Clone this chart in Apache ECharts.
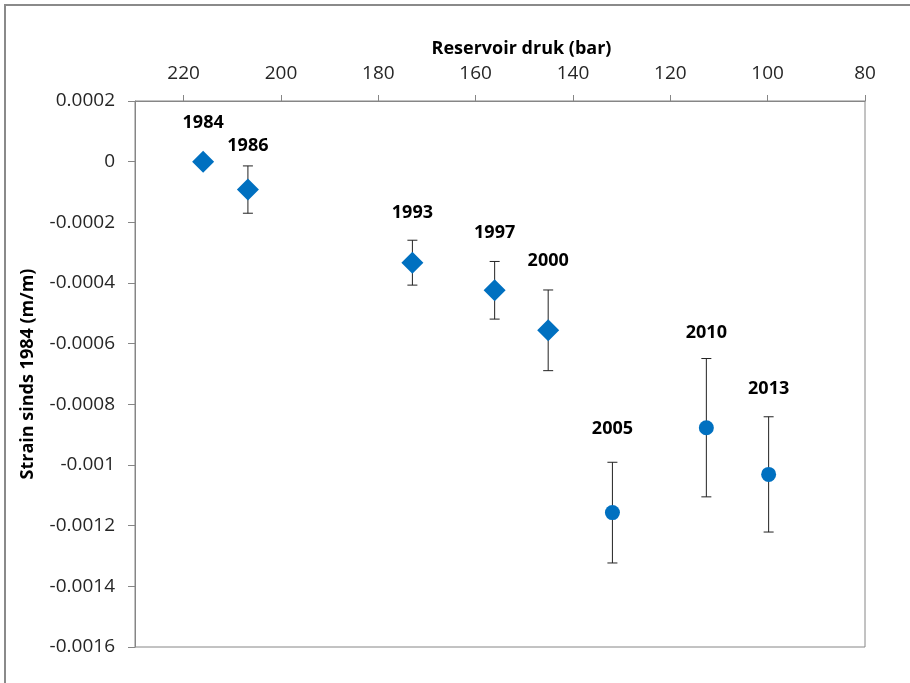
<!DOCTYPE html>
<html>
<head>
<meta charset="utf-8">
<script src="https://cdn.jsdelivr.net/npm/echarts@6/dist/echarts.min.js"></script>
<style>
  html, body { margin: 0; padding: 0; background: #fff; }
  #chart { width: 910px; height: 683px; }
</style>
</head>
<body>
<div id="chart"></div>
<script>
// Survey years, reservoir pressure (bar), strain since 1984 (m/m) and its uncertainty
const years    = ['1984', '1986', '1993', '1997', '2000', '2005', '2010', '2013'];
const pressure = [216, 206.8, 173.0, 156.1, 145.1, 131.9, 112.6, 99.8];
const strain   = [0, -0.000092, -0.000333, -0.000424, -0.000556, -0.001157, -0.000877, -0.001031];
const strainErr = [0, 0.000078, 0.000074, 0.000095, 0.000133, 0.000166, 0.000228, 0.00019];
// Older surveys drawn as diamonds, newer ones as circles
const diamondYears = ['1984', '1986', '1993', '1997', '2000'];
const circleYears  = ['2005', '2010', '2013'];

// Axis ticks
const pressureTicks = [220, 200, 180, 160, 140, 120, 100, 80];
const strainTicks = [0.0002, 0, -0.0002, -0.0004, -0.0006, -0.0008, -0.001, -0.0012, -0.0014, -0.0016];

// Label lift above the top of each error bar (px)
const labelLift = [39, 20, 27, 29, 29, 33, 26, 28];

const BLUE = '#0070C0';
const AXIS_GRAY = '#868686';
const FONT = '"Open Sans", sans-serif';

function rowsFor(list) {
  return years.map((y, i) => [pressure[i], strain[i], y])
              .filter(r => list.indexOf(r[2]) >= 0);
}

const errRows = years.map((y, i) => [pressure[i], strain[i], strainErr[i], y, labelLift[i]]);

const chart = echarts.init(document.getElementById('chart'), null, { renderer: 'canvas' });

chart.setOption({
  backgroundColor: '#ffffff',
  animation: false,
  graphic: [{
    type: 'rect',
    shape: { x: 5, y: 5, width: 1000, height: 1000 },
    style: { fill: 'none', stroke: '#8a8a8a', lineWidth: 2 },
    silent: true
  }],
  grid: {
    left: 135, right: 45, top: 101, bottom: 36,
    show: true, borderColor: AXIS_GRAY, borderWidth: 1, backgroundColor: 'transparent'
  },
  xAxis: {
    type: 'value',
    position: 'top',
    inverse: true,
    min: 80,
    max: 230,
    interval: 20,
    name: 'Reservoir druk (bar)',
    nameLocation: 'middle',
    nameGap: 43,
    nameTextStyle: { fontFamily: FONT, fontWeight: 'bold', fontSize: 18, color: '#000', padding: [0, 0, 0, 43] },
    axisLine: { show: true, onZero: false, lineStyle: { color: AXIS_GRAY, width: 1 } },
    axisTick: { show: true, inside: false, length: 6, lineStyle: { color: AXIS_GRAY }, customValues: pressureTicks },
    axisLabel: { fontFamily: FONT, fontSize: 19, color: '#262626', margin: 18, customValues: pressureTicks },
    splitLine: { show: false }
  },
  yAxis: {
    type: 'value',
    min: -0.0016,
    max: 0.0002,
    interval: 0.0002,
    name: 'Strain sinds 1984 (m/m)',
    nameLocation: 'middle',
    nameGap: 98,
    nameTextStyle: { fontFamily: FONT, fontWeight: 'bold', fontSize: 18, color: '#000' },
    axisLine: { show: true, onZero: false, lineStyle: { color: AXIS_GRAY, width: 1 } },
    axisTick: { show: true, length: 7, lineStyle: { color: AXIS_GRAY }, customValues: strainTicks },
    axisLabel: {
      fontFamily: FONT, fontSize: 19, color: '#262626', margin: 20,
      customValues: strainTicks,
      formatter: v => String(Number(v.toFixed(4)))
    },
    splitLine: { show: false }
  },
  series: [
    {
      // error bars with caps, plus the year label above each bar
      type: 'custom',
      data: errRows,
      z: 1,
      renderItem: function (params, api) {
        const x = api.value(0), y = api.value(1), e = api.value(2);
        const top = api.coord([x, y + e]);
        const bot = api.coord([x, y - e]);
        const cap = 5;
        const children = [];
        if (e > 0) {
          children.push(
            { type: 'line', shape: { x1: top[0], y1: top[1], x2: bot[0], y2: bot[1] }, style: { stroke: '#222', lineWidth: 1 } },
            { type: 'line', shape: { x1: top[0] - cap, y1: top[1], x2: top[0] + cap, y2: top[1] }, style: { stroke: '#222', lineWidth: 1 } },
            { type: 'line', shape: { x1: bot[0] - cap, y1: bot[1], x2: bot[0] + cap, y2: bot[1] }, style: { stroke: '#222', lineWidth: 1 } }
          );
        }
        children.push({
          type: 'text',
          style: {
            x: top[0], y: top[1] - api.value(4),
            text: api.value(3),
            align: 'center', verticalAlign: 'middle',
            font: 'bold 18px ' + FONT,
            fill: '#000'
          }
        });
        return { type: 'group', children: children };
      }
    },
    {
      type: 'scatter',
      data: rowsFor(diamondYears),
      symbol: 'diamond',
      symbolSize: [22, 22],
      itemStyle: { color: BLUE, opacity: 1 },
      z: 3
    },
    {
      type: 'scatter',
      data: rowsFor(circleYears),
      symbol: 'circle',
      symbolSize: 15,
      itemStyle: { color: BLUE, opacity: 1 },
      z: 3
    }
  ]
});
</script>
</body>
</html>
